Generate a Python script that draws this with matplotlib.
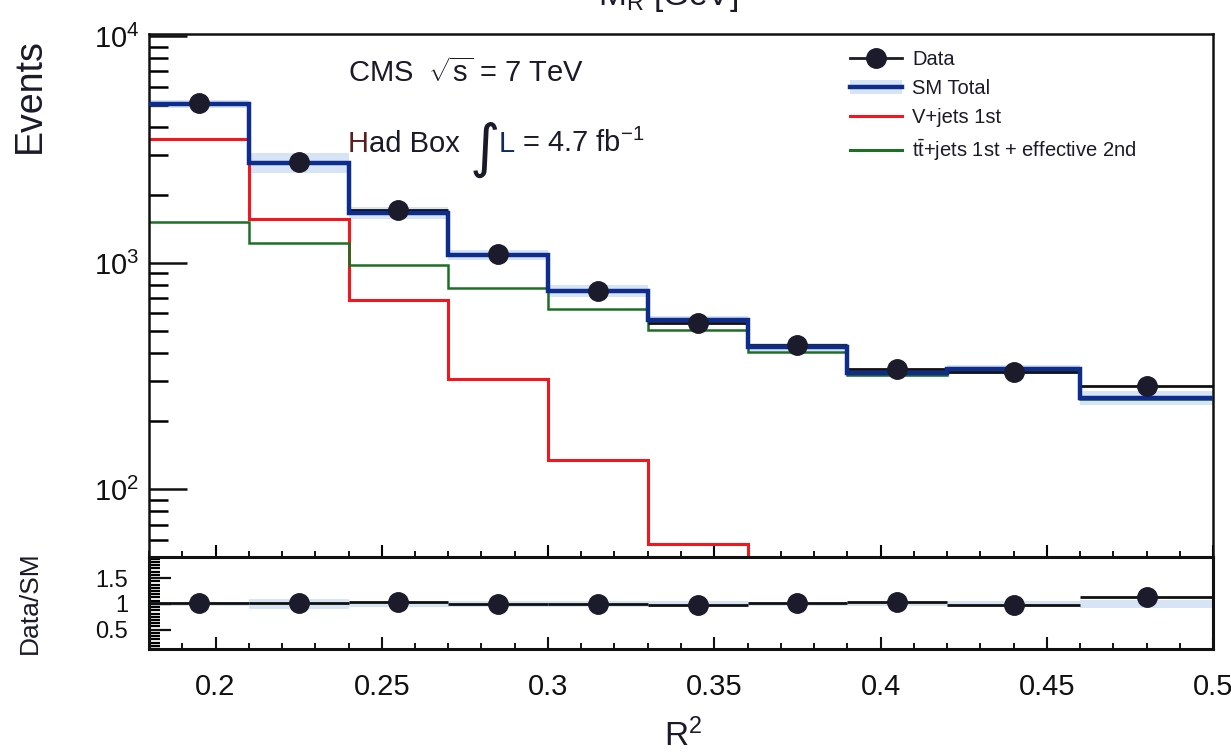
import numpy as np
import matplotlib
matplotlib.use("Agg")
import matplotlib.pyplot as plt
from matplotlib.lines import Line2D
from matplotlib.patches import Patch
from matplotlib.ticker import LogLocator, MultipleLocator, NullFormatter, FixedLocator, FuncFormatter

plt.rcParams['font.family'] = ['Liberation Sans', 'DejaVu Sans']
plt.rcParams['mathtext.fontset'] = 'custom'
plt.rcParams['mathtext.rm'] = 'Liberation Sans'
plt.rcParams['mathtext.it'] = 'Liberation Sans:italic'
plt.rcParams['mathtext.bf'] = 'Liberation Sans:bold'

# R^2 binning and bin contents
r2_edges = [0.18, 0.21, 0.24, 0.27, 0.30, 0.33, 0.36, 0.39, 0.42, 0.46, 0.50]
data = [5080, 2800, 1720, 1095, 750, 545, 435, 340, 331, 287]
sm_total = [5024, 2767, 1663, 1089, 752, 558, 425, 327, 339, 254]
sm_rel_err = [0.04, 0.10, 0.06, 0.05, 0.06, 0.05, 0.04, 0.04, 0.05, 0.07]
vjets = [3510, 1555, 684, 306, 135, 57.5, 20, 7, 3, 3]
ttjets = [1517, 1225, 984, 778, 624, 506, 404, 320, 336, 251]
x_ticks = [0.2, 0.25, 0.3, 0.35, 0.4, 0.45, 0.5]
ratio_ticks = [0.5, 1.0, 1.5]

BLUE = '#0d2c8c'
BAND = '#d6e4f6'
RED = '#f2161e'
GREEN = '#1f6e25'
DOT = '#1b1b2c'
TXT = '#1a1a28'

edges = np.array(r2_edges)
centers = 0.5 * (edges[1:] + edges[:-1])
halfw = 0.5 * (edges[1:] - edges[:-1])
d = np.array(data, dtype=float)
sm = np.array(sm_total, dtype=float)
err = np.array(sm_rel_err)

W, H = 1231, 754
fig = plt.figure(figsize=(W / 100, H / 100), dpi=100)
L, R = 149 / W, 1213 / W
top_main, split, bot = 1 - 34.3 / H, 1 - 556.5 / H, 1 - 649.3 / H
ax = fig.add_axes([L, split, R - L, top_main - split])
axr = fig.add_axes([L, bot, R - L, split - bot], sharex=ax)

# main panel
ax.stairs(sm * (1 + err), edges, baseline=sm * (1 - err), fill=True, color=BAND, lw=0, zorder=1)
ax.stairs(vjets, edges, baseline=None, color=RED, lw=2.2, zorder=2)
ax.stairs(ttjets, edges, baseline=None, color=GREEN, lw=1.8, zorder=2)
ax.errorbar(centers, d, xerr=halfw, yerr=np.sqrt(d), fmt='none', ecolor='#111111',
            elinewidth=2, zorder=3)
ax.stairs(sm, edges, baseline=None, color=BLUE, lw=3.2, zorder=4)
ax.plot(centers, d, 'o', color=DOT, markersize=14, zorder=5)

ax.set_yscale('log')
ax.set_xlim(0.18, 0.5)
ax.set_ylim(50.6, 10214)
ax.yaxis.set_major_locator(LogLocator(base=10))
ax.yaxis.set_minor_locator(LogLocator(base=10, subs=np.arange(2, 10)))
ax.yaxis.set_minor_formatter(NullFormatter())
ax.xaxis.set_major_locator(FixedLocator(x_ticks))
ax.xaxis.set_minor_locator(MultipleLocator(0.01))
ax.tick_params(axis='x', which='both', labelbottom=False, direction='in', top=False)
ax.tick_params(axis='x', which='major', length=9, width=1.5)
ax.tick_params(axis='x', which='minor', length=4, width=1.3)
ax.tick_params(axis='y', which='major', direction='in', length=27, width=1.8,
               labelsize=21, pad=7, colors='#111111')
ax.tick_params(axis='y', which='minor', direction='in', length=14, width=1.8)
for s in ax.spines.values():
    s.set_linewidth(1.8)
    s.set_color('#111111')

# ratio panel
ratio = d / sm
ratio_err = np.sqrt(d) / sm
axr.stairs(1 + err, edges, baseline=1 - err, fill=True, color=BAND, lw=0, zorder=1)
axr.errorbar(centers, ratio, xerr=halfw, yerr=ratio_err, fmt='none', ecolor='#111111',
             elinewidth=2, zorder=3)
axr.plot(centers, ratio, 'o', color=DOT, markersize=14, zorder=5)
axr.set_ylim(0.12, 1.92)
axr.yaxis.set_major_locator(FixedLocator(ratio_ticks))
axr.yaxis.set_minor_locator(MultipleLocator(0.0625))
axr.yaxis.set_major_formatter(FuncFormatter(lambda v, p: '%g' % v))
axr.xaxis.set_major_formatter(FuncFormatter(lambda v, p: '%g' % v))
axr.tick_params(axis='x', which='major', direction='in', length=9, width=1.5,
                labelsize=21, pad=17, colors='#111111')
axr.tick_params(axis='x', which='minor', direction='in', length=4, width=1.3)
axr.tick_params(axis='y', which='major', direction='in', length=16, width=1.6,
                labelsize=17, pad=15, colors='#111111')
axr.tick_params(axis='y', which='minor', direction='in', length=8, width=1.6)
for s in axr.spines.values():
    s.set_linewidth(2.2)
    s.set_color('#111111')

# axis titles and labels
fig.text(30 / W, 1 - 38 / H, 'Events', rotation=90, ha='center', va='top',
         fontsize=27, color=TXT)
fig.text(30 / W, 1 - 603 / H, 'Data/SM', rotation=90, ha='center', va='center',
         fontsize=19, color=TXT)
fig.text(683 / W, 1 - 746 / H, r'R$^{2}$', ha='center', va='baseline', fontsize=24, color=TXT)
fig.text(668 / W, 1 - 5 / H, r'M$_{\mathrm{R}}$ [GeV]', ha='center', va='baseline',
         fontsize=24, color=TXT)

# CMS labels
fig.text(348 / W, 1 - 82 / H, r'CMS  $\sqrt{\mathrm{s}}$ = 7 TeV', ha='left', va='baseline',
         fontsize=21, color=TXT)
t_h = fig.text(348 / W, 1 - 152 / H, 'H', ha='left', va='baseline', fontsize=21,
               color='#5a1e1e')
ax.annotate('ad Box', xy=(1, 0), xycoords=t_h, ha='left', va='bottom',
            fontsize=21, color=TXT)
fig.text(470 / W, 1 - 166 / H, '\u222b', ha='left', va='baseline', fontsize=42,
         color=TXT, family='DejaVu Sans')
fig.text(499 / W, 1 - 152 / H, 'L', ha='left', va='baseline', fontsize=21, color='#142a5c')
fig.text(514 / W, 1 - 152 / H, r' = 4.7 fb$^{-1}$', ha='left', va='baseline',
         fontsize=21, color=TXT)

# legend
handles = [
    Line2D([], [], color=DOT, marker='o', markersize=14, lw=2),
    (Patch(facecolor=BAND, edgecolor='none'), Line2D([], [], color=BLUE, lw=3.2)),
    Line2D([], [], color=RED, lw=2.2),
    Line2D([], [], color=GREEN, lw=2.2),
]
labels = ['Data', 'SM Total', 'V+jets 1st', r'$\mathrm{t\bar{t}}$+jets 1st + effective 2nd']
leg = fig.legend(handles, labels, loc='upper left', bbox_to_anchor=(850 / W, 1 - 50 / H),
                 frameon=False, fontsize=14.5, handlelength=2.6, handletextpad=0.5,
                 labelspacing=0.5, borderpad=0, borderaxespad=0)
for t in leg.get_texts():
    t.set_color(TXT)

fig.savefig('out.png', dpi=100)
